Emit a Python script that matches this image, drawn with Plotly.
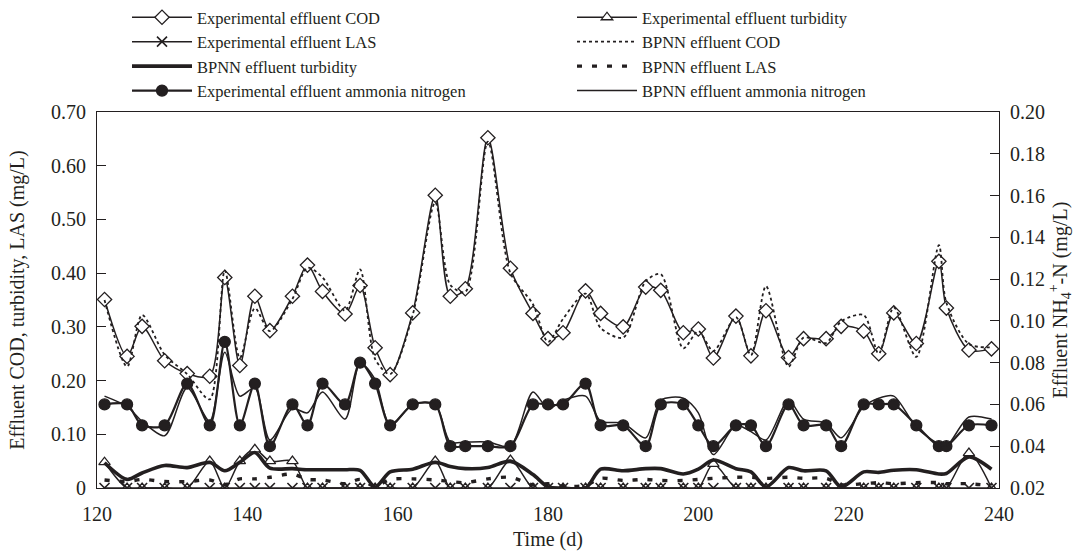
import plotly.graph_objects as go

# ---------------- data ----------------
days = [121, 124, 126, 129, 132, 135, 137, 139, 141, 143, 146, 148, 150, 153, 155, 157, 159, 162,
        165, 167, 169, 172, 175, 178, 180, 182, 185, 187, 190, 193, 195, 198, 200, 202, 205, 207,
        209, 212, 214, 217, 219, 222, 224, 226, 229, 232, 233, 236, 239]

exp_cod = [0.351, 0.245, 0.301, 0.237, 0.213, 0.208, 0.392, 0.228, 0.357, 0.293, 0.357, 0.415,
           0.366, 0.324, 0.377, 0.261, 0.211, 0.326, 0.545, 0.357, 0.371, 0.652, 0.409, 0.325,
           0.278, 0.289, 0.367, 0.325, 0.300, 0.374, 0.368, 0.289, 0.296, 0.242, 0.320, 0.246,
           0.330, 0.243, 0.278, 0.278, 0.301, 0.292, 0.250, 0.326, 0.269, 0.422, 0.335, 0.257, 0.259]

bpnn_cod = [0.350, 0.226, 0.322, 0.248, 0.212, 0.165, 0.405, 0.242, 0.335, 0.292, 0.352, 0.410,
            0.392, 0.330, 0.407, 0.240, 0.212, 0.322, 0.532, 0.378, 0.365, 0.645, 0.400, 0.342,
            0.272, 0.315, 0.362, 0.298, 0.280, 0.385, 0.398, 0.260, 0.292, 0.255, 0.318, 0.247,
            0.376, 0.226, 0.280, 0.270, 0.310, 0.322, 0.250, 0.336, 0.244, 0.452, 0.345, 0.268, 0.262]

exp_turb = [0.048, 0.0, 0.0, 0.0, 0.0, 0.050, 0.0, 0.050, 0.072, 0.050, 0.050, 0.0,
            0.0, 0.0, 0.0, 0.0, 0.0, 0.0, 0.050, 0.0, 0.0, 0.0, 0.052, 0.0,
            0.0, 0.0, 0.0, 0.0, 0.0, 0.0, 0.0, 0.0, 0.0, 0.045, 0.0, 0.0,
            0.0, 0.0, 0.0, 0.0, 0.0, 0.0, 0.0, 0.0, 0.0, 0.0, 0.0, 0.065, 0.0]

bpnn_turb = [0.047, 0.016, 0.028, 0.042, 0.038, 0.048, 0.032, 0.048, 0.066, 0.037, 0.036, 0.034,
             0.034, 0.034, 0.033, 0.002, 0.030, 0.035, 0.048, 0.040, 0.036, 0.038, 0.050, 0.025,
             0.002, 0.0, 0.0, 0.035, 0.032, 0.036, 0.036, 0.026, 0.035, 0.052, 0.036, 0.030,
             0.002, 0.038, 0.032, 0.032, 0.002, 0.030, 0.029, 0.033, 0.034, 0.026, 0.027, 0.058, 0.035]

exp_las = [0.0] * len(days)

bpnn_las = [0.015, 0.012, 0.016, 0.012, 0.012, 0.015, 0.006, 0.017, 0.017, 0.020, 0.026, 0.016,
            0.015, 0.008, 0.016, 0.003, 0.016, 0.017, 0.015, 0.012, 0.010, 0.017, 0.020, 0.006,
            0.008, 0.003, 0.005, 0.018, 0.014, 0.016, 0.014, 0.014, 0.016, 0.018, 0.020, 0.020,
            0.018, 0.020, 0.018, 0.018, 0.006, 0.008, 0.010, 0.008, 0.010, 0.010, 0.008, 0.008, 0.004]

exp_nh = [0.060, 0.060, 0.050, 0.050, 0.070, 0.050, 0.090, 0.050, 0.070, 0.040, 0.060, 0.050,
          0.070, 0.060, 0.080, 0.070, 0.050, 0.060, 0.060, 0.040, 0.040, 0.040, 0.040, 0.060,
          0.060, 0.060, 0.070, 0.050, 0.050, 0.040, 0.060, 0.060, 0.050, 0.040, 0.050, 0.050,
          0.040, 0.060, 0.050, 0.050, 0.040, 0.060, 0.060, 0.060, 0.050, 0.040, 0.040, 0.050, 0.050]

bpnn_nh = [0.064, 0.059, 0.052, 0.045, 0.068, 0.052, 0.085, 0.064, 0.068, 0.043, 0.058, 0.056,
           0.066, 0.053, 0.080, 0.072, 0.050, 0.060, 0.060, 0.042, 0.042, 0.042, 0.040, 0.066,
           0.058, 0.062, 0.064, 0.052, 0.051, 0.044, 0.062, 0.063, 0.056, 0.036, 0.050, 0.047,
           0.043, 0.062, 0.053, 0.051, 0.044, 0.059, 0.063, 0.064, 0.049, 0.041, 0.040, 0.054, 0.053]

x_ticks = [120, 140, 160, 180, 200, 220, 240]
left_ticks = [0, 0.1, 0.2, 0.3, 0.4, 0.5, 0.6, 0.7]
left_labels = ["0", "0.10", "0.20", "0.30", "0.40", "0.50", "0.60", "0.70"]
right_ticks = [0.02, 0.04, 0.06, 0.08, 0.10, 0.12, 0.14, 0.16, 0.18, 0.20]
right_labels = ["0.02", "0.04", "0.06", "0.08", "0.10", "0.12", "0.14", "0.16", "0.18", "0.20"]

# ---------------- styles ----------------
INK = "#231f20"
FONT = "Liberation Serif, Times New Roman, serif"

fig = go.Figure()

def add(name, y, axis="y", dash="solid", width=1.5, symbol=None, size=9, fill="white", mlw=1.3):
    mode = "lines+markers" if symbol else "lines"
    marker = None
    if symbol:
        marker = dict(symbol=symbol, size=size, color=fill,
                      line=dict(color=INK, width=mlw))
    fig.add_trace(go.Scatter(
        x=days, y=y, name=name, mode=mode, yaxis=axis,
        line=dict(color=INK, width=width, dash=dash, shape="spline", smoothing=0.8),
        marker=marker))

# order chosen so the horizontal legend fills two columns like the reference
add("Experimental effluent COD", exp_cod, symbol="diamond", size=11)
add("Experimental effluent turbidity", exp_turb, symbol="triangle-up", size=10)
add("Experimental effluent LAS", exp_las, symbol="x-thin", size=10, fill=INK, mlw=1.6)
add("BPNN effluent COD", bpnn_cod, dash="dot", width=1.8)
add("BPNN effluent turbidity", bpnn_turb, width=3.6)
add("BPNN effluent LAS", bpnn_las, dash="5px,10px", width=3.4)
add("Experimental effluent ammonia nitrogen", exp_nh, axis="y2", symbol="circle", size=11,
    fill=INK, width=2.2)
add("BPNN effluent ammonia nitrogen", bpnn_nh, axis="y2", width=1.5)

fig.update_layout(
    width=1082, height=551,
    margin=dict(l=97, r=83, t=112, b=63, autoexpand=False),
    paper_bgcolor="white", plot_bgcolor="white",
    font=dict(family=FONT, color=INK, size=20),
    showlegend=True,
    legend=dict(orientation="h", xref="container", yref="container",
                x=127 / 1082, y=1.0, xanchor="left", yanchor="top",
                entrywidth=370, font=dict(size=16.5, family=FONT, color=INK),
                bgcolor="rgba(0,0,0,0)", itemwidth=60, tracegroupgap=0),
    xaxis=dict(range=[120, 240], tickvals=x_ticks, ticktext=[str(v) for v in x_ticks],
               showline=True, linecolor=INK, linewidth=1.2, mirror=True, ticks="",
               showgrid=False, zeroline=False, ticklabelstandoff=8, automargin=False,
               title=dict(text="Time (d)", standoff=12, font=dict(size=20))),
    yaxis=dict(range=[0, 0.70], tickvals=left_ticks, ticktext=left_labels,
               showline=True, linecolor=INK, linewidth=1.2, ticks="inside", ticklen=9,
               tickcolor=INK, showgrid=False, zeroline=False, ticklabelstandoff=6,
               automargin=False,
               title=dict(text="Effluent COD, turbidity, LAS (mg/L)", standoff=20, font=dict(size=20))),
    yaxis2=dict(range=[0.02, 0.20], tickvals=right_ticks, ticktext=right_labels,
                overlaying="y", side="right", automargin=False,
                showline=True, linecolor=INK, linewidth=1.2, ticks="inside", ticklen=9,
                tickcolor=INK, showgrid=False, zeroline=False, ticklabelstandoff=6,
                title=dict(text="Effluent NH<sub>4</sub><sup>+</sup>-N (mg/L)", standoff=8, font=dict(size=20))),
)

fig.write_html("out.html")
